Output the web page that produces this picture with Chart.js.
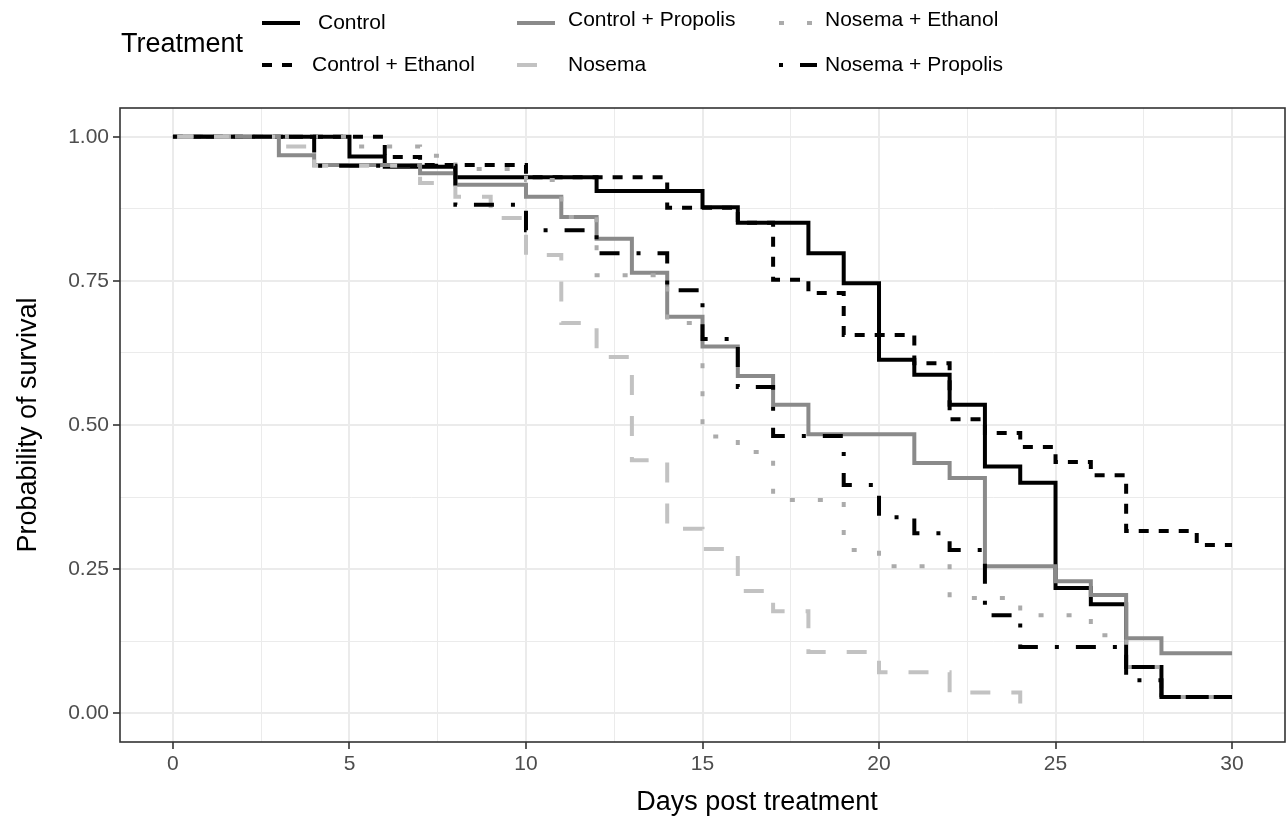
<!DOCTYPE html>
<html>
<head>
<meta charset="utf-8">
<title>Survival by treatment</title>
<script src="https://cdn.jsdelivr.net/npm/chart.js@4.4.1/dist/chart.umd.min.js"></script>
<style>
  html, body { margin: 0; padding: 0; background: #fff; }
  #wrap { width: 1288px; height: 821px; position: relative; }
</style>
</head>
<body>
<div id="wrap"><canvas id="km"></canvas></div>
<script>
// Kaplan-Meier steps: day of each drop and survival from that day on
const controlDays  = [0, 5, 6, 8, 12, 15, 16, 18, 19, 20, 21, 22, 23, 24, 25, 26, 27, 28, 30];
const controlSurv  = [1, 0.966, 0.948, 0.93, 0.906, 0.878, 0.851, 0.798, 0.746, 0.613, 0.587, 0.535, 0.428, 0.40, 0.217, 0.189, 0.08, 0.028, 0.028];

const ctrlEthDays  = [0, 6, 7, 10, 14, 16, 17, 18, 19, 21, 22, 23, 24, 25, 26, 27, 29, 30];
const ctrlEthSurv  = [1, 0.965, 0.951, 0.93, 0.877, 0.851, 0.752, 0.729, 0.656, 0.607, 0.51, 0.486, 0.462, 0.436, 0.413, 0.316, 0.292, 0.292];

const ctrlPropDays = [0, 3, 4, 7, 8, 10, 11, 12, 13, 14, 15, 16, 17, 18, 21, 22, 23, 25, 26, 27, 28, 30];
const ctrlPropSurv = [1, 0.968, 0.951, 0.937, 0.917, 0.896, 0.861, 0.823, 0.764, 0.688, 0.636, 0.585, 0.535, 0.484, 0.434, 0.408, 0.255, 0.229, 0.205, 0.13, 0.104, 0.104];

const nosemaDays   = [0, 3, 4, 7, 8, 9, 10, 11, 12, 13, 14, 15, 16, 17, 18, 20, 22, 24];
const nosemaSurv   = [1, 0.983, 0.95, 0.92, 0.896, 0.859, 0.795, 0.677, 0.618, 0.439, 0.32, 0.285, 0.212, 0.177, 0.106, 0.071, 0.036, 0];

const nosEthDays   = [0, 5, 7, 8, 10, 11, 12, 14, 15, 16, 17, 19, 20, 22, 24, 26, 27, 28, 30];
const nosEthSurv   = [1, 0.983, 0.967, 0.944, 0.925, 0.861, 0.76, 0.677, 0.48, 0.453, 0.37, 0.283, 0.255, 0.2, 0.17, 0.135, 0.08, 0.028, 0.028];

const nosPropDays  = [0, 4, 8, 10, 12, 14, 15, 16, 17, 19, 20, 21, 22, 23, 24, 27, 28];
const nosPropSurv  = [1, 0.95, 0.882, 0.838, 0.798, 0.734, 0.649, 0.566, 0.481, 0.396, 0.34, 0.312, 0.283, 0.17, 0.115, 0.057, 0];

const treatments = ['Control', 'Control + Ethanol', 'Control + Propolis', 'Nosema', 'Nosema + Ethanol', 'Nosema + Propolis'];

// axis breaks (major) and the minor grid between them
const xMajor = [0, 5, 10, 15, 20, 25, 30];
const xMinor = [2.5, 7.5, 12.5, 17.5, 22.5, 27.5];
const yMajor = [0, 0.25, 0.5, 0.75, 1];
const yMinor = [0.125, 0.375, 0.625, 0.875];

const FONT = '"Liberation Sans", Arial, Helvetica, sans-serif';

const STYLES = [
  { color: '#000000', dash: [] },
  { color: '#000000', dash: [10, 10] },
  { color: '#8a8a8a', dash: [] },
  { color: '#c2c2c2', dash: [20, 21] },
  { color: '#ababab', dash: [5, 23] },
  { color: '#000000', dash: [4, 17, 20, 17] },
];

const SERIES = [
  [controlDays, controlSurv],
  [ctrlEthDays, ctrlEthSurv],
  [ctrlPropDays, ctrlPropSurv],
  [nosemaDays, nosemaSurv],
  [nosEthDays, nosEthSurv],
  [nosPropDays, nosPropSurv],
];

const datasets = SERIES.map(([days, surv], i) => ({
  label: treatments[i],
  data: days.map((d, k) => ({ x: d, y: surv[k] })),
  borderColor: STYLES[i].color,
  borderDash: STYLES[i].dash,
  borderWidth: 4,
  borderCapStyle: 'butt',
  borderJoinStyle: 'miter',
  stepped: 'before',
  pointRadius: 0,
  fill: false,
  order: SERIES.length - i, // later treatments on top
}));

const isMajor = (list, v) => list.some(m => Math.abs(m - v) < 1e-9);

// Full panel frame, drawn over the curves
const panelBorder = {
  id: 'panelBorder',
  afterDatasetsDraw(chart) {
    const { ctx, chartArea: a } = chart;
    ctx.save();
    ctx.strokeStyle = '#333333';
    ctx.lineWidth = 1.6;
    ctx.strokeRect(a.left, a.top, a.right - a.left, a.bottom - a.top);
    ctx.restore();
  },
};

// Legend on top (title left, keys in three columns of two) and the x title
const annotations = {
  id: 'annotations',
  afterDraw(chart) {
    const { ctx } = chart;
    const cols = [
      { keyX: 262, labelX: 312 },
      { keyX: 517, labelX: 568 },
      { keyX: 779, labelX: 825 },
    ];
    const rows = [23, 65];
    ctx.save();
    ctx.fillStyle = '#000';
    ctx.textBaseline = 'middle';
    ctx.font = `27px ${FONT}`;
    ctx.fillText('Treatment', 121, 45);
    ctx.font = `21px ${FONT}`;
    treatments.forEach((name, i) => {
      const col = cols[Math.floor(i / 2)];
      const y = rows[i % 2];
      ctx.save();
      ctx.strokeStyle = STYLES[i].color;
      ctx.lineWidth = 4;
      ctx.lineCap = 'butt';
      ctx.setLineDash(STYLES[i].dash);
      ctx.beginPath();
      ctx.moveTo(col.keyX, y);
      ctx.lineTo(col.keyX + 38, y);
      ctx.stroke();
      ctx.restore();
      const lx = i === 0 ? col.labelX + 6 : col.labelX;
      const ly = i % 2 === 0 && i > 0 ? y - 3 : y;
      ctx.fillText(name, lx, ly);
    });

    ctx.font = `27px ${FONT}`;
    ctx.textAlign = 'center';
    ctx.fillText('Days post treatment', 757, 803);
    ctx.restore();
  },
};

new Chart(document.getElementById('km'), {
  type: 'line',
  data: { datasets },
  plugins: [panelBorder, annotations],
  options: {
    responsive: true,
    maintainAspectRatio: false,
    animation: false,
    devicePixelRatio: 1,
    layout: { padding: { top: 108, right: 3, left: 0, bottom: 0 } },
    plugins: { legend: { display: false }, tooltip: { enabled: false } },
    scales: {
      x: {
        type: 'linear',
        min: -1.5,
        max: 31.5,
        afterBuildTicks: s => { s.ticks = [...xMajor, ...xMinor].sort((a, b) => a - b).map(v => ({ value: v })); },
        afterFit: s => { s.height = 79; },
        border: { display: false },
        grid: {
          color: '#ebebeb',
          lineWidth: c => (isMajor(xMajor, c.tick.value) ? 2 : 1),
          tickColor: c => (isMajor(xMajor, c.tick.value) ? '#333333' : 'rgba(0,0,0,0)'),
          tickWidth: 1.6,
          tickLength: 7,
        },
        ticks: {
          autoSkip: false,
          maxRotation: 0,
          padding: 3,
          color: '#4d4d4d',
          font: { family: FONT, size: 21 },
          callback: v => (isMajor(xMajor, v) ? String(v) : ''),
        },
        title: { display: false },
      },
      y: {
        type: 'linear',
        min: -0.05,
        max: 1.05,
        afterBuildTicks: s => { s.ticks = [...yMajor, ...yMinor].sort((a, b) => a - b).map(v => ({ value: v })); },
        afterFit: s => { s.width = 120; },
        border: { display: false },
        grid: {
          color: '#ebebeb',
          lineWidth: c => (isMajor(yMajor, c.tick.value) ? 2 : 1),
          tickColor: c => (isMajor(yMajor, c.tick.value) ? '#333333' : 'rgba(0,0,0,0)'),
          tickWidth: 1.6,
          tickLength: 7,
        },
        ticks: {
          autoSkip: false,
          padding: 4,
          color: '#4d4d4d',
          font: { family: FONT, size: 21 },
          callback: v => (isMajor(yMajor, v) ? v.toFixed(2) : ''),
        },
        title: {
          display: true,
          text: 'Probability of survival',
          color: '#000',
          font: { family: FONT, size: 27 },
          padding: { top: 12, bottom: 0 },
        },
      },
    },
  },
});
</script>
</body>
</html>
